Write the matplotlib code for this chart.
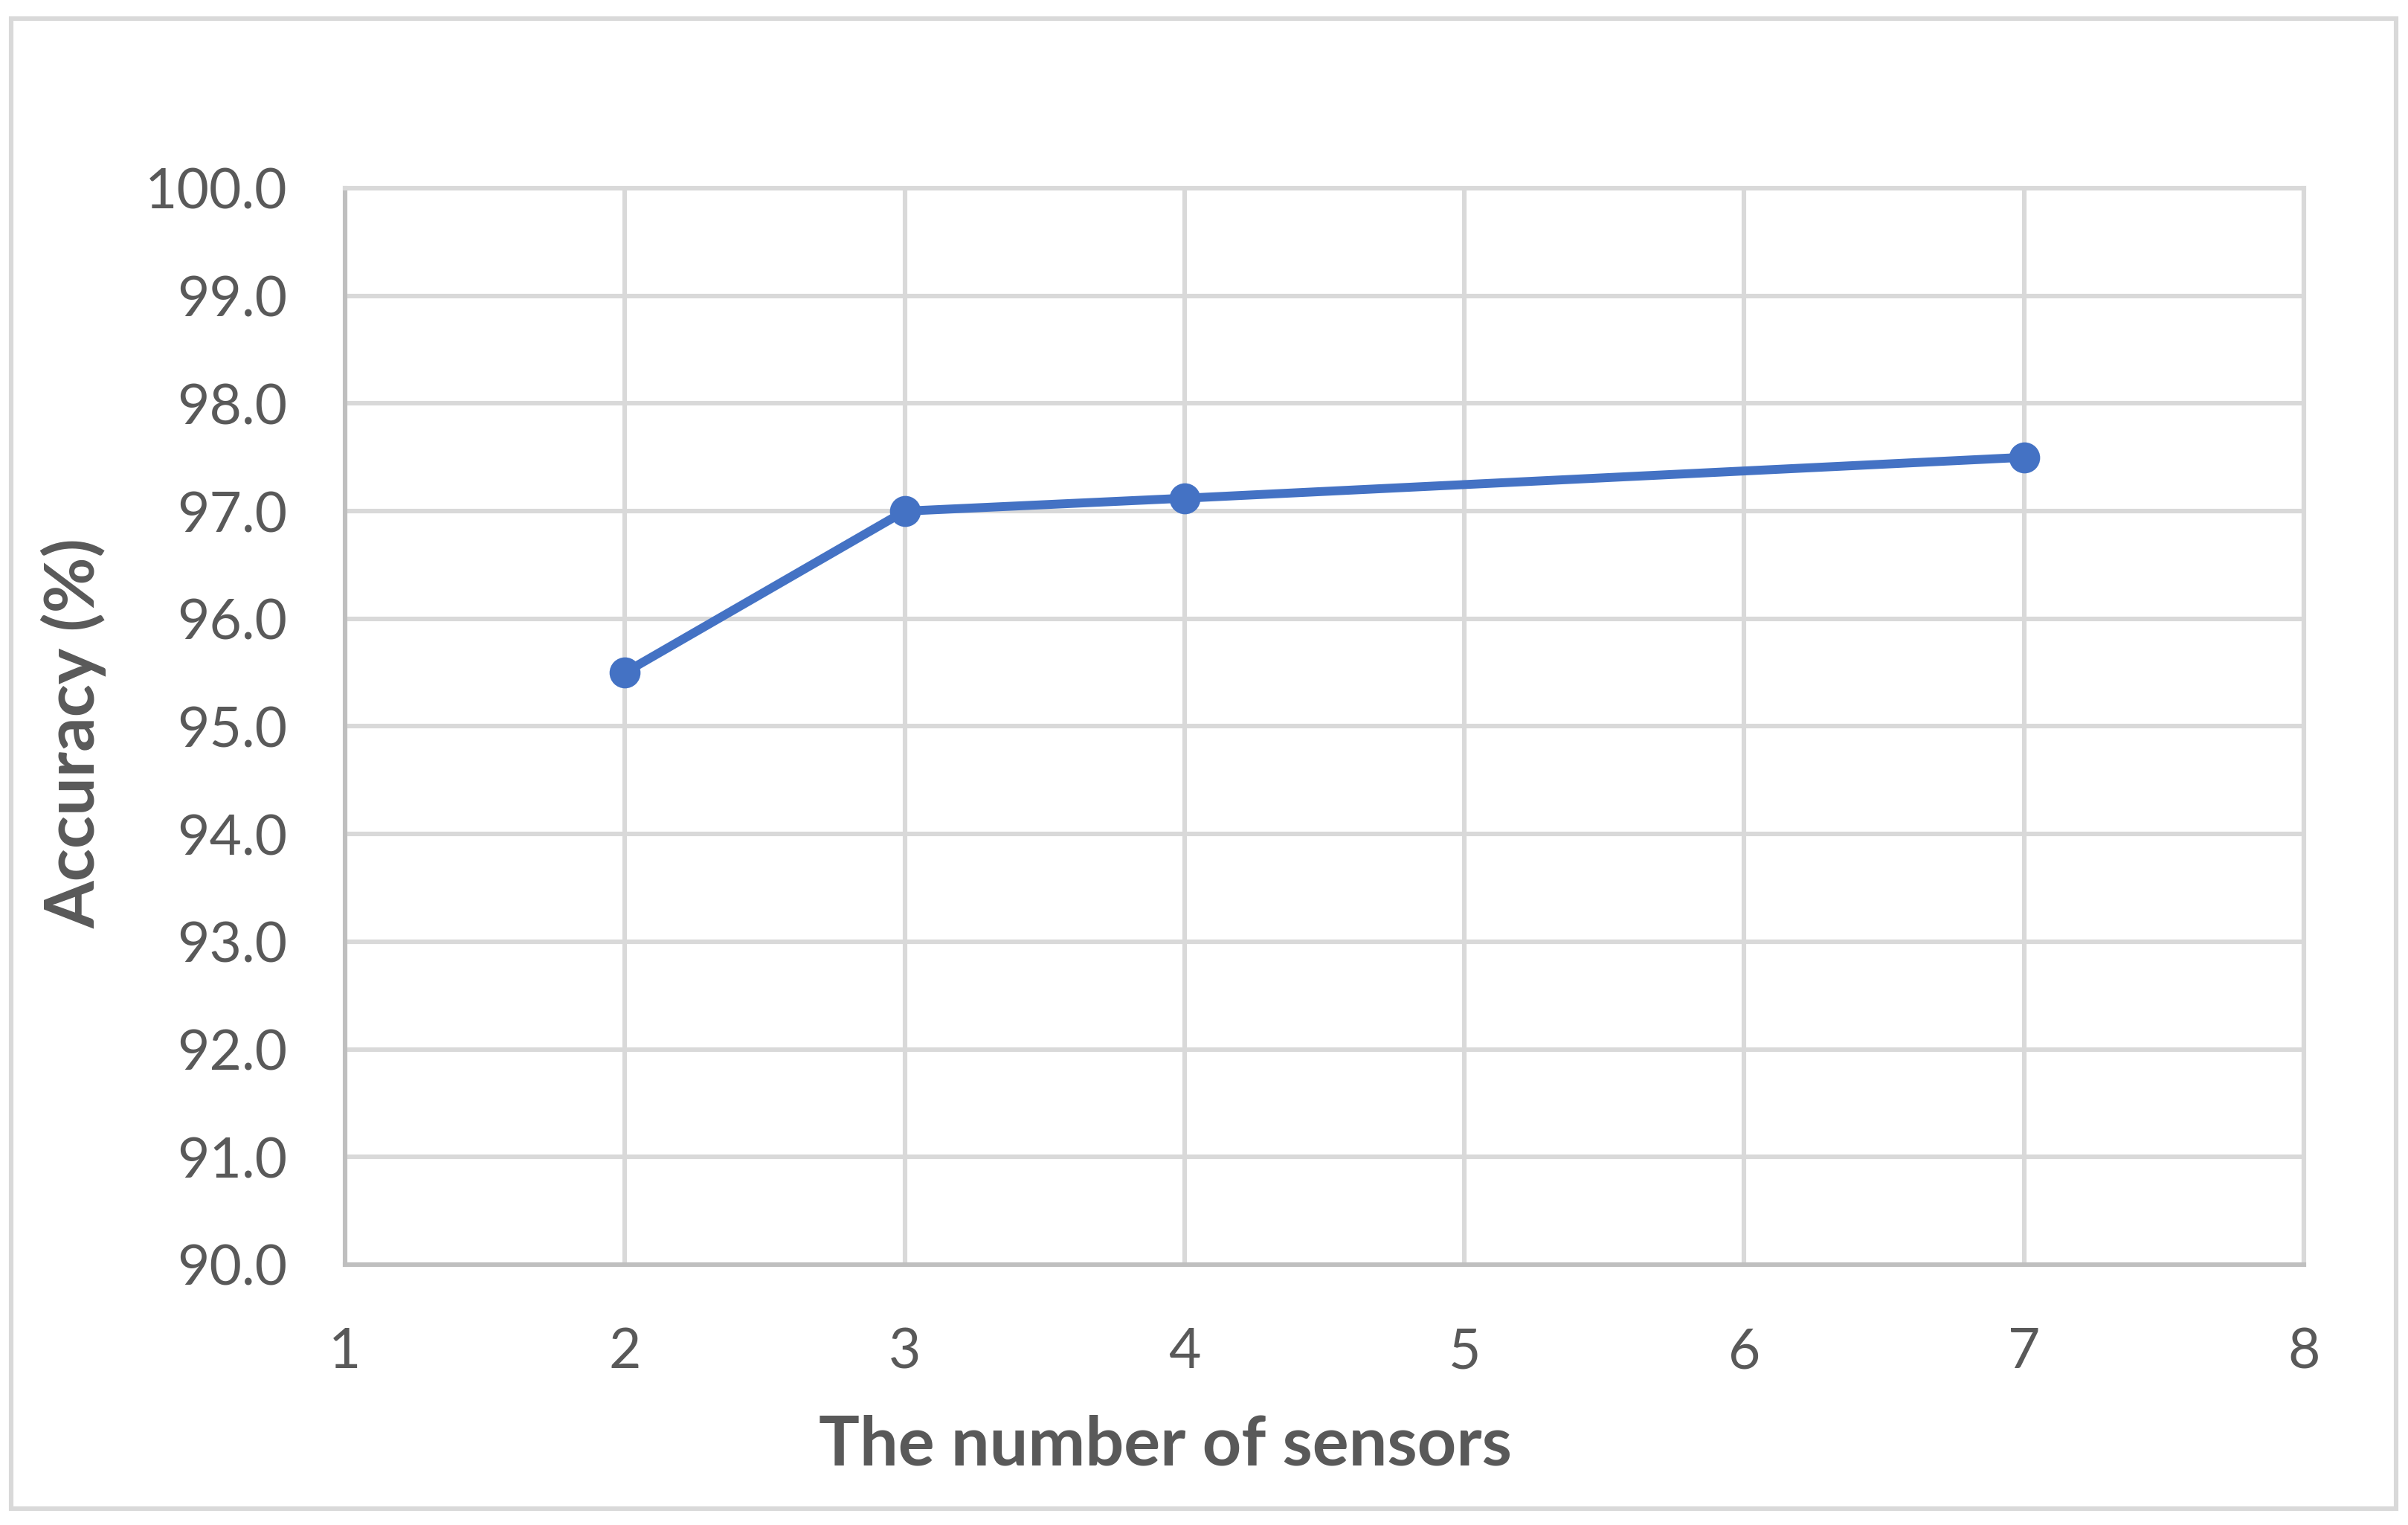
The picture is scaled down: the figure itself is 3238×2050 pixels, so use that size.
import matplotlib
matplotlib.use("Agg")
import matplotlib.pyplot as plt
from matplotlib.patches import Rectangle

sensors = [2, 3, 4, 7]
accuracy = [95.5, 97.0, 97.12, 97.5]
x_ticks = [1, 2, 3, 4, 5, 6, 7, 8]
y_ticks = [90, 91, 92, 93, 94, 95, 96, 97, 98, 99, 100]

plt.rcParams["font.family"] = ["Lato", "DejaVu Sans"]
text_col = "#595959"
grid_col = "#d9d9d9"

W, H = 3238, 2050
fig = plt.figure(figsize=(W / 200, H / 200), dpi=200)

# outer chart border
fig.patches.append(Rectangle((15 / W, 1 - 2028 / H), (3222 - 15) / W, (2028 - 25) / H,
                             transform=fig.transFigure, fill=False,
                             edgecolor=grid_col, linewidth=2.2))

ax = fig.add_axes([464 / W, 1 - 1700 / H, (3098 - 464) / W, (1700 - 253) / H])
ax.set_xlim(1, 8)
ax.set_ylim(90, 100)
ax.set_xticks(x_ticks)
ax.set_yticks(y_ticks, labels=[f"{v:.1f}" for v in y_ticks])
ax.grid(True, color=grid_col, linewidth=2.2)
ax.set_axisbelow(True)
for side in ["top", "right"]:
    ax.spines[side].set_color(grid_col)
    ax.spines[side].set_linewidth(2.2)
for side in ["left", "bottom"]:
    ax.spines[side].set_color("#bfbfbf")
    ax.spines[side].set_linewidth(2.2)
ax.tick_params(length=0, labelsize=27, labelcolor=text_col)
ax.tick_params(axis="y", pad=28)
ax.tick_params(axis="x", pad=30)

ax.plot(sensors, accuracy, "-o", color="#4472c4", linewidth=4.3, markersize=14,
        clip_on=False, zorder=3)

fig.text(1567 / W, 1 - 1943 / H, "The number of sensors", ha="center", va="center",
         fontsize=33, fontweight="bold", color=text_col)
fig.text(99 / W, 1 - 986 / H, "Accuracy (%)", ha="center", va="center",
         rotation=90, fontsize=33, fontweight="bold", color=text_col)

fig.savefig("out.png", dpi=200, facecolor="white")
